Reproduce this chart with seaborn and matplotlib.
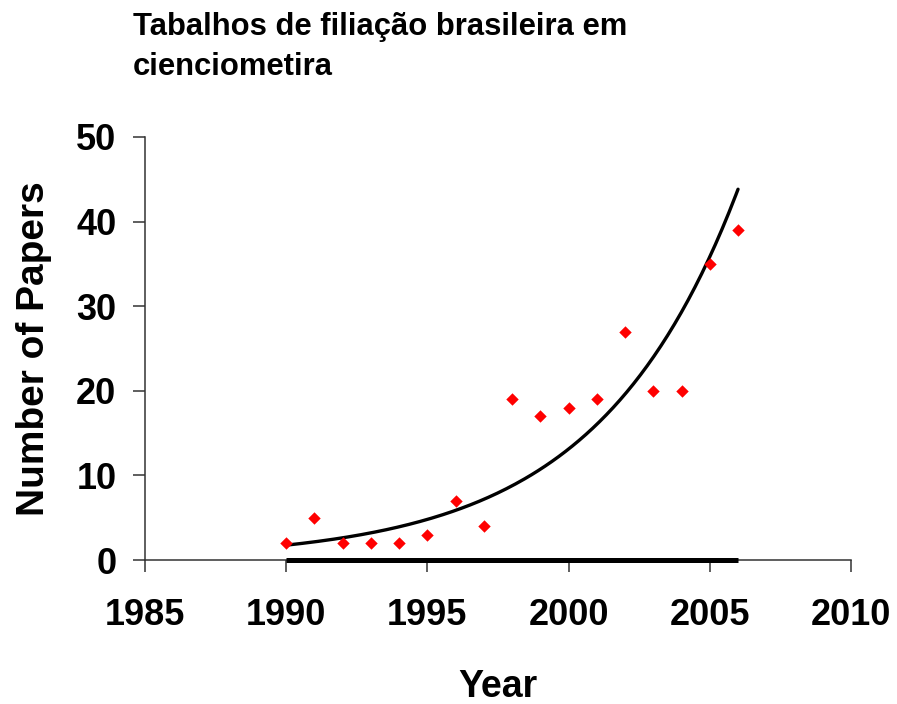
import numpy as np
import pandas as pd
import matplotlib
matplotlib.use("Agg")
import matplotlib.pyplot as plt
import seaborn as sns

# ---- data ----
years = [1990, 1991, 1992, 1993, 1994, 1995, 1996, 1997, 1998,
         1999, 2000, 2001, 2002, 2003, 2004, 2005, 2006]
papers = [2, 5, 2, 2, 2, 3, 7, 4, 19, 17, 18, 19, 27, 20, 20, 35, 39]
baseline = [0] * len(years)
x_ticks = [1985, 1990, 1995, 2000, 2005, 2010]
y_ticks = [0, 10, 20, 30, 40, 50]
title = "Tabalhos de filiação brasileira em\ncienciometira"
x_label = "Year"
y_label = "Number of Papers"

df = pd.DataFrame({"Year": years, "Papers": papers, "Zero": baseline})

# exponential trendline (least squares on log values, as in a spreadsheet)
b, ln_a = np.polyfit(np.array(years) - years[0], np.log(papers), 1)
fit_x = np.linspace(years[0], years[-1], 200)
fit_df = pd.DataFrame({"Year": fit_x, "Fit": np.exp(ln_a + b * (fit_x - years[0]))})

sns.set_theme(style="white")
plt.rcParams["font.family"] = ["Liberation Sans", "DejaVu Sans"]
plt.rcParams["text.color"] = "black"
plt.rcParams["axes.labelcolor"] = "black"

fig = plt.figure(figsize=(8.97, 7.04), dpi=100)
ax = fig.add_axes([0.1617, 0.2045, 0.7870, 0.6009])

sns.lineplot(data=fit_df, x="Year", y="Fit", ax=ax, color="black", lw=2.4, zorder=3)
sns.lineplot(data=df, x="Year", y="Zero", ax=ax, color="black", lw=3.6,
             zorder=5, clip_on=False, solid_capstyle="butt")
sns.scatterplot(data=df, x="Year", y="Papers", ax=ax, marker="D", s=40,
                color="#ff0000", linewidth=0, zorder=4, clip_on=False)

ax.set_xlim(1985, 2010)
ax.set_ylim(0, 50)
ax.set_xticks(x_ticks)
ax.set_yticks(y_ticks)
ax.set_xticklabels([str(t) for t in x_ticks], fontsize=26, fontweight="bold")
ax.set_yticklabels([str(t) for t in y_ticks], fontsize=26, fontweight="bold")

for side in ["top", "right"]:
    ax.spines[side].set_visible(False)
for side in ["left", "bottom"]:
    ax.spines[side].set_color("#333333")
    ax.spines[side].set_linewidth(1.1)

ax.tick_params(axis="x", direction="out", length=8.6, width=1.1, color="#333333",
               labelcolor="black", pad=19, bottom=True)
ax.tick_params(axis="y", direction="out", length=8.6, width=1.1, color="#333333",
               labelcolor="black", pad=12, left=True)

ax.set_xlabel(x_label, fontsize=27, fontweight="bold")
ax.set_ylabel(y_label, fontsize=28, fontweight="bold")
ax.xaxis.set_label_coords(0.5, -0.257)
ax.yaxis.set_label_coords(-0.132, 0.5)

fig.text(133 / 897, 1 - 12 / 704, title, fontsize=22.3, fontweight="bold",
         ha="left", va="top", linespacing=1.45)

fig.savefig("out.png", dpi=100, facecolor="white")
